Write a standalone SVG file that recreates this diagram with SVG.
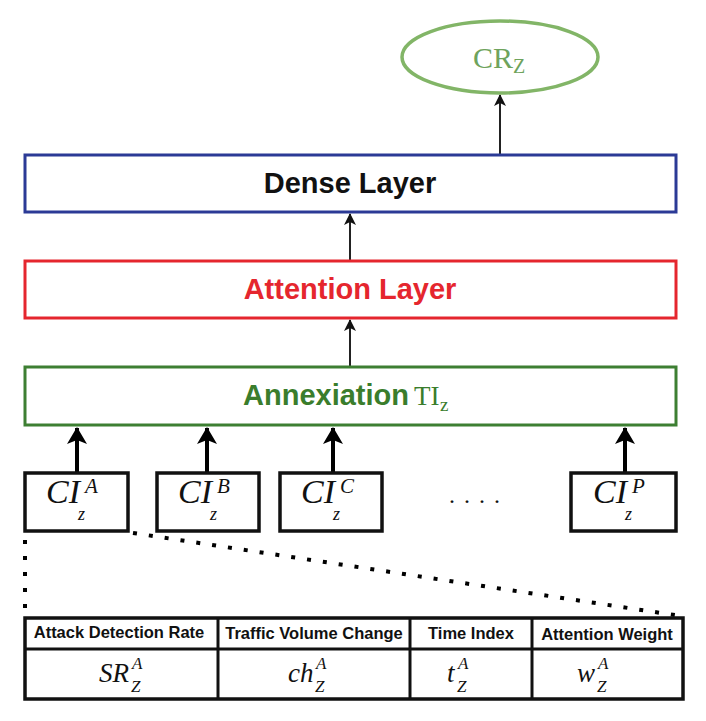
<svg xmlns="http://www.w3.org/2000/svg" width="706" height="721" viewBox="0 0 706 721">
<style>
.box{fill:#fff;stroke-width:3}
.lbl{font-family:"Liberation Sans",Arial,sans-serif;font-weight:bold;font-size:29px;text-anchor:middle}
.tm{font-family:"Liberation Serif","Times New Roman",serif}
.it{font-family:"Liberation Serif","Times New Roman",serif;font-style:italic}
.ci{fill:#fff;stroke:#111;stroke-width:3.5}
.hd{font-family:"Liberation Sans",Arial,sans-serif;font-weight:bold;font-size:16.5px;text-anchor:middle;fill:#111}
.thin{stroke:#222;stroke-width:2;fill:none}
.thick{stroke:#000;stroke-width:4;fill:none}
.dot{stroke:#000;stroke-width:4;stroke-dasharray:4 12;fill:none}
</style>
<defs>
<marker id="ah" markerUnits="userSpaceOnUse" markerWidth="14" markerHeight="12" refX="11" refY="6" orient="auto">
<path d="M0,0 L12,6 L0,12 L3,6 Z" fill="#111"/>
</marker>
<marker id="ahb" markerUnits="userSpaceOnUse" markerWidth="18" markerHeight="20" refX="16" refY="10" orient="auto">
<path d="M0,0 L17,10 L0,20 L4,10 Z" fill="#000"/>
</marker>
</defs>
<rect width="706" height="721" fill="#fff"/>

<g id="connectors">
<line class="thin" x1="500" y1="154" x2="500" y2="95" marker-end="url(#ah)"/>
<line class="thin" x1="350" y1="260" x2="350" y2="214" marker-end="url(#ah)"/>
<line class="thin" x1="350" y1="366" x2="350" y2="320" marker-end="url(#ah)"/>
<line class="thick" x1="77" y1="472" x2="77" y2="428" marker-end="url(#ahb)"/>
<line class="thick" x1="207" y1="472" x2="207" y2="428" marker-end="url(#ahb)"/>
<line class="thick" x1="333" y1="472" x2="333" y2="428" marker-end="url(#ahb)"/>
<line class="thick" x1="625" y1="472" x2="625" y2="428" marker-end="url(#ahb)"/>
<line class="dot" x1="25" y1="540" x2="25" y2="615"/>
<line class="dot" x1="133" y1="533" x2="681" y2="616"/>
</g>

<g id="cr">
<ellipse cx="500" cy="57" rx="98" ry="36" fill="#fff" stroke="#82b567" stroke-width="3.5"/>
<text class="tm" x="473" y="68" font-size="30" fill="#6ea35c">CR</text>
<text class="tm" x="513" y="73" font-size="20" fill="#6ea35c">Z</text>
</g>

<g id="dense">
<rect class="box" x="25" y="155" width="651" height="57" stroke="#2b3a96"/>
<text class="lbl" x="350" y="193" fill="#111">Dense Layer</text>
</g>

<g id="attention">
<rect class="box" x="25" y="261" width="651" height="57" stroke="#e5262e"/>
<text class="lbl" x="350" y="299" fill="#e5262e">Attention Layer</text>
</g>

<g id="annexiation">
<rect class="box" x="25" y="367" width="651" height="58" stroke="#3d7f32"/>
<text class="lbl" x="326" y="405" fill="#3a7d2c">Annexiation</text>
<text class="tm" x="414" y="405" font-size="27" fill="#3a7d2c">TI</text>
<text class="tm" x="440" y="411" font-size="19" fill="#3a7d2c">z</text>
</g>

<g id="ciA">
<rect class="ci" x="25" y="473" width="103" height="58"/>
<text class="it" x="46" y="503" font-size="34" fill="#111">CI</text>
<text class="it" x="85" y="493" font-size="21" fill="#111">A</text>
<text class="it" x="78" y="520" font-size="18" fill="#111">z</text>
</g>
<g id="ciB">
<rect class="ci" x="157" y="473" width="102" height="58"/>
<text class="it" x="178" y="503" font-size="34" fill="#111">CI</text>
<text class="it" x="217" y="493" font-size="21" fill="#111">B</text>
<text class="it" x="210" y="520" font-size="18" fill="#111">z</text>
</g>
<g id="ciC">
<rect class="ci" x="280" y="473" width="102" height="58"/>
<text class="it" x="301" y="503" font-size="34" fill="#111">CI</text>
<text class="it" x="340" y="493" font-size="21" fill="#111">C</text>
<text class="it" x="333" y="520" font-size="18" fill="#111">z</text>
</g>
<g id="dots">
<text class="tm" x="449" y="503" font-size="24" letter-spacing="9" fill="#111">....</text>
</g>
<g id="ciP">
<rect class="ci" x="571" y="473" width="105" height="58"/>
<text class="it" x="593" y="503" font-size="34" fill="#111">CI</text>
<text class="it" x="632" y="493" font-size="21" fill="#111">P</text>
<text class="it" x="625" y="520" font-size="18" fill="#111">z</text>
</g>

<g id="table">
<rect x="25" y="618" width="658" height="81" fill="#fff" stroke="#111" stroke-width="3.5"/>
<line x1="25" y1="649" x2="683" y2="649" stroke="#111" stroke-width="3"/>
<line x1="218" y1="618" x2="218" y2="699" stroke="#111" stroke-width="3"/>
<line x1="410" y1="618" x2="410" y2="699" stroke="#111" stroke-width="3"/>
<line x1="532" y1="618" x2="532" y2="699" stroke="#111" stroke-width="3"/>
<text class="hd" x="119" y="638">Attack Detection Rate</text>
<text class="hd" x="314" y="639">Traffic Volume Change</text>
<text class="hd" x="471" y="639">Time Index</text>
<text class="hd" x="607" y="640">Attention Weight</text>
<text class="it" x="99" y="682" font-size="27" fill="#111">SR</text>
<text class="it" x="132" y="669" font-size="17" fill="#111">A</text>
<text class="it" x="131" y="692" font-size="17" fill="#111">Z</text>
<text class="it" x="288" y="682" font-size="27" fill="#111">ch</text>
<text class="it" x="316" y="669" font-size="17" fill="#111">A</text>
<text class="it" x="315" y="692" font-size="17" fill="#111">Z</text>
<text class="it" x="447" y="682" font-size="27" fill="#111">t</text>
<text class="it" x="458" y="669" font-size="17" fill="#111">A</text>
<text class="it" x="457" y="692" font-size="17" fill="#111">Z</text>
<text class="it" x="577" y="682" font-size="27" fill="#111">w</text>
<text class="it" x="598" y="669" font-size="17" fill="#111">A</text>
<text class="it" x="597" y="692" font-size="17" fill="#111">Z</text>
</g>
</svg>
